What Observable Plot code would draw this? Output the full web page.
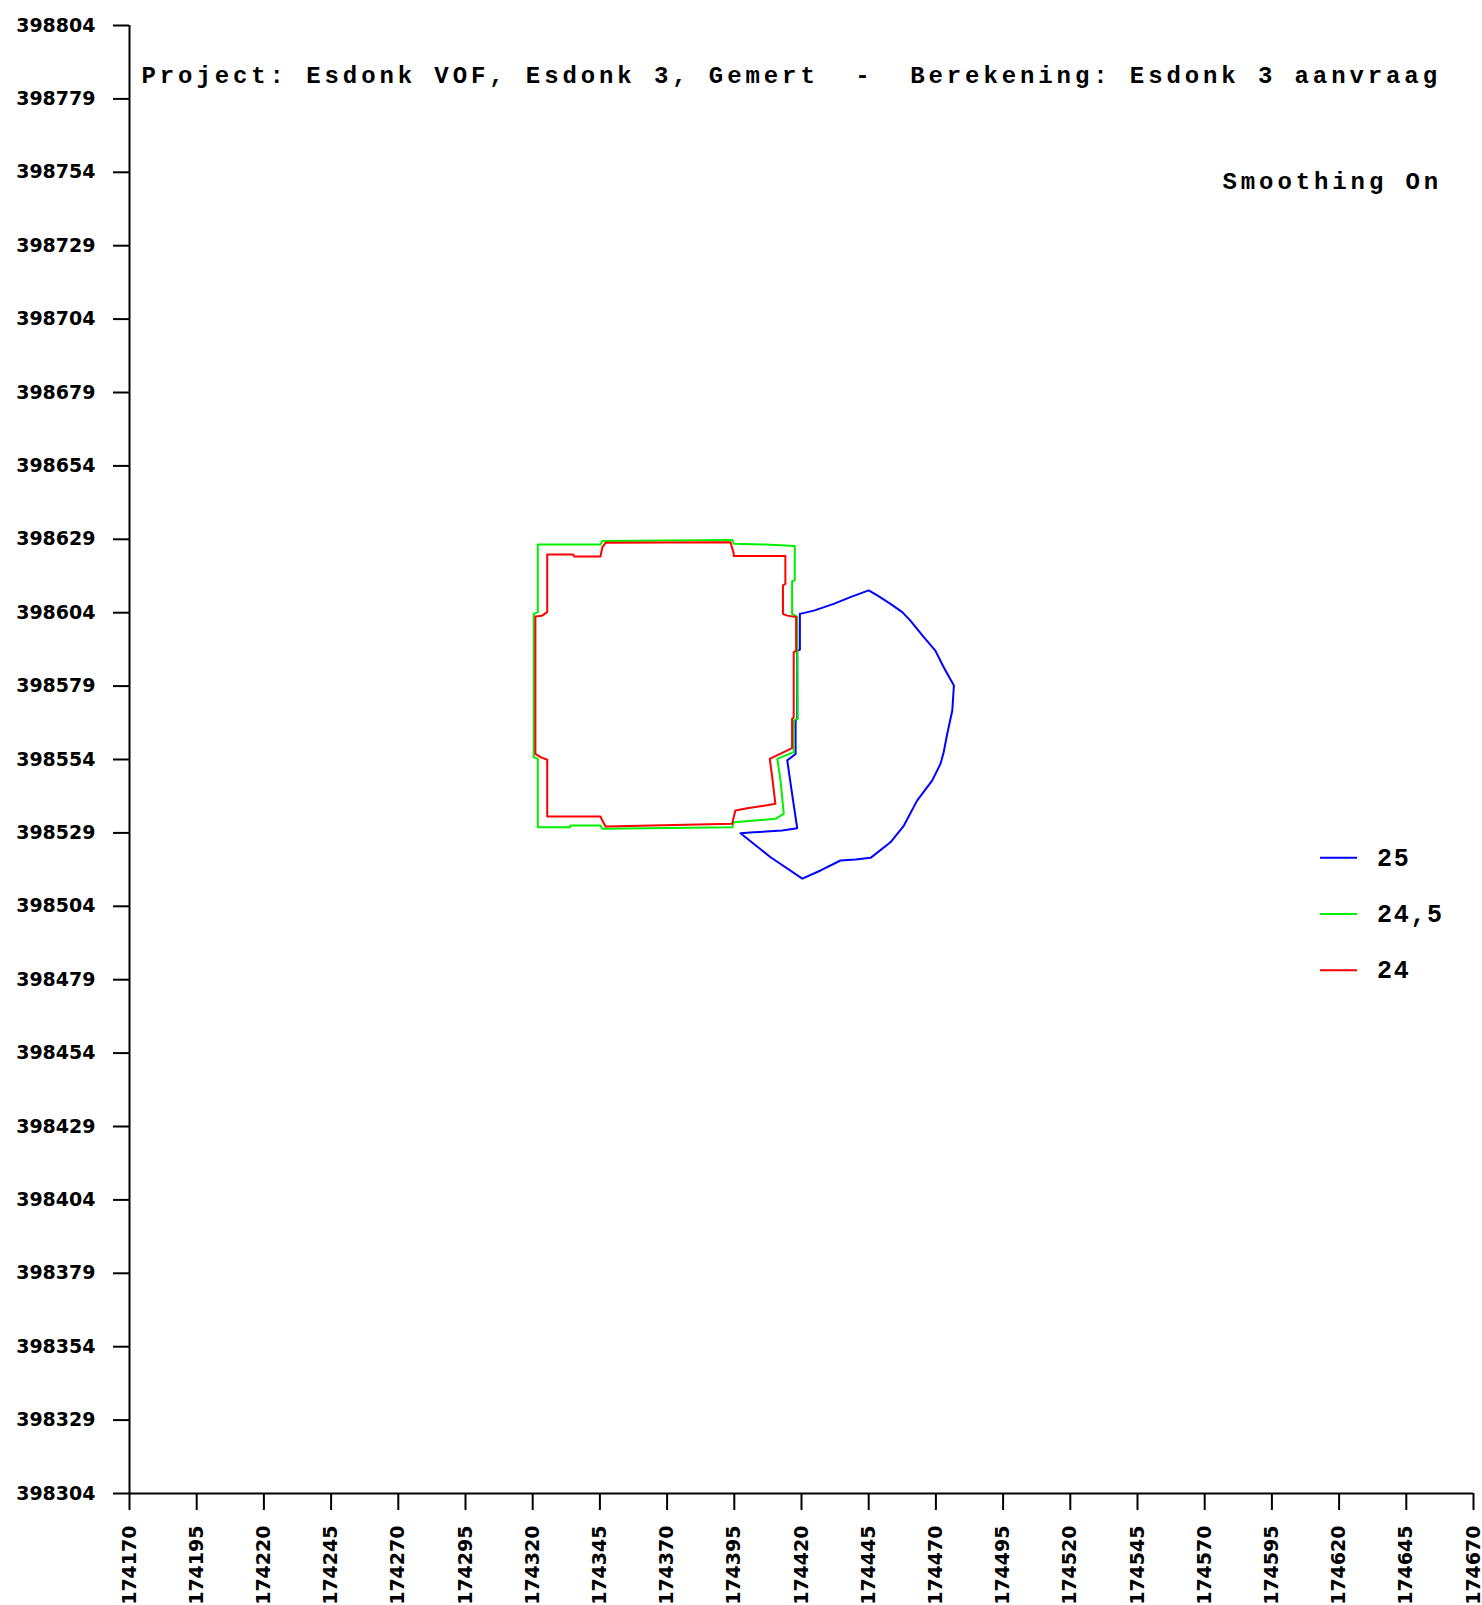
<!DOCTYPE html>
<html>
<head>
<meta charset="utf-8">
<script src="https://cdn.jsdelivr.net/npm/d3@7"></script>
<script src="https://cdn.jsdelivr.net/npm/@observablehq/plot@0.6"></script>
<style>
  body { margin: 0; background: #fff; }
  #chart { position: relative; width: 1482px; height: 1605px; }
  #chart svg { overflow: visible; }
  g[aria-label="text"] text { letter-spacing: 3.9px; }
  g[aria-label="x-axis tick"] path, g[aria-label="y-axis tick"] path { stroke-width: 2px; }
</style>
</head>
<body>
<div id="chart"></div>
<script>
// ---- Data ----
const titleText = "Project: Esdonk VOF, Esdonk 3, Gemert  -  Berekening: Esdonk 3 aanvraag";
const smoothingText = "Smoothing On";

const xTicks = [174170,174195,174220,174245,174270,174295,174320,174345,174370,174395,174420,174445,174470,174495,174520,174545,174570,174595,174620,174645,174670];
const yTicks = [398304,398329,398354,398379,398404,398429,398454,398479,398504,398529,398554,398579,398604,398629,398654,398679,398704,398729,398754,398779,398804];

const levels = ["25", "24,5", "24"];
const levelColors = ["#0000ff", "#00f000", "#ff0000"];

// contour 25 (blue)
const c25X = [174419.4,174424.6,174432.0,174438.2,174445.0,174448.2,174453.1,174457.5,174460.5,174465.5,174469.8,174472.9,174476.7,174476.1,174474.2,174472.9,174471.7,174468.6,174463.0,174458.1,174453.1,174445.7,174440.1,174434.5,174427.1,174420.3,174408.5,174397.3,174402.3,174412.8,174418.4,174416.5,174414.7,174417.8,174417.8,174418.4,174418.4,174419.4];
const c25Y = [398603.6,398604.7,398607.0,398609.3,398611.6,398609.9,398607.0,398604.2,398601.3,398595.7,398591.1,398585.4,398579.2,398570.7,398562.7,398556.5,398552.5,398546.8,398540.0,398531.5,398525.8,398520.5,398519.9,398519.6,398516.2,398513.4,398520.7,398528.9,398529.2,398529.8,398530.6,398542.3,398553.7,398555.9,398567.3,398567.9,398591.1,398591.4];

// contour 24,5 (green)
const c245X = [174321.9,174345.2,174345.9,174394.3,174394.8,174406.6,174417.5,174417.5,174416.5,174416.5,174418.4,174418.6,174417.1,174417.1,174411.0,174412.2,174413.4,174410.3,174394.8,174394.2,174345.9,174345.2,174334.0,174333.8,174321.9,174321.9,174320.4,174320.4,174321.9];
const c245Y = [398627.2,398627.2,398628.4,398628.8,398627.5,398627.2,398626.7,398615.0,398614.7,398603.6,398602.7,398567.9,398567.3,398556.5,398554.2,398546.8,398535.5,398533.8,398532.6,398530.9,398530.4,398531.5,398531.5,398530.9,398530.9,398554.2,398554.8,398603.6,398604.2];

// contour 24 (red)
const c24X = [174325.4,174335.1,174335.5,174345.2,174345.9,174347.1,174393.6,174394.8,174394.8,174414.0,174414.0,174413.1,174413.1,174414.7,174418.0,174418.0,174417.1,174417.1,174416.5,174416.5,174408.2,174409.1,174410.3,174406.6,174399.8,174395.4,174394.2,174347.1,174345.9,174345.2,174325.4,174325.4,174322.9,174321.0,174321.0,174323.5,174325.4];
const c24Y = [398623.8,398623.8,398623.1,398623.1,398626.3,398627.8,398628.0,398624.1,398623.3,398623.3,398613.8,398613.3,398603.6,398603.0,398602.5,398591.1,398590.5,398568.4,398567.9,398557.9,398554.2,398548.0,398538.9,398538.3,398537.4,398536.6,398532.1,398531.2,398533.2,398534.6,398534.6,398553.9,398554.8,398555.9,398602.7,398603.0,398604.2];

// ---- Build closed rings ----
function ring(xs, ys) {
  const pts = xs.map((x, i) => ({x, y: ys[i]}));
  pts.push(pts[0]);
  return pts;
}
const rings = [ring(c25X, c25Y), ring(c245X, c245Y), ring(c24X, c24Y)];

const chart = Plot.plot({
  width: 1482,
  height: 1605,
  marginLeft: 129,
  marginRight: 9,
  marginTop: 25,
  marginBottom: 112,
  style: {fontFamily: "DejaVu Sans", fontSize: "19px", fontWeight: "bold", color: "#000", background: "#fff"},
  x: {domain: [174170, 174670], ticks: xTicks, tickFormat: d3.format("d"), tickRotate: -90, tickSize: 17, tickPadding: 15, label: null},
  y: {domain: [398304, 398804], ticks: yTicks, tickFormat: d3.format("d"), tickSize: 16, tickPadding: 18, label: null},
  marks: [
    Plot.ruleX([174170], {stroke: "#000", strokeWidth: 2}),
    Plot.ruleY([398304], {stroke: "#000", strokeWidth: 2}),
    ...rings.map((r, i) => Plot.line(r, {x: "x", y: "y", stroke: levelColors[i], strokeWidth: 2})),
    Plot.text([titleText], {frameAnchor: "top-left", textAnchor: "start", lineAnchor: "top", dx: 12, dy: 40, fontFamily: "Liberation Mono", fontSize: 24, fontWeight: "bold", fill: "#000"}),
    Plot.text([smoothingText], {frameAnchor: "top-left", textAnchor: "start", lineAnchor: "top", dx: 1093, dy: 146, fontFamily: "Liberation Mono", fontSize: 24, fontWeight: "bold", fill: "#000"})
  ]
});
document.getElementById("chart").appendChild(chart);

// ---- Legend (overlay in the same SVG) ----
const svg = d3.select(chart);
const lg = svg.append("g").attr("class", "legend").attr("text-anchor", "start");
levels.forEach((lv, i) => {
  const yy = 857.7 + i * 56.3;
  lg.append("line").attr("x1", 1320).attr("x2", 1357).attr("y1", yy).attr("y2", yy)
    .attr("stroke", levelColors[i]).attr("stroke-width", 2);
  lg.append("text").attr("x", 1377).attr("y", yy + 8)
    .attr("text-anchor", "start")
    .attr("font-family", "Liberation Mono").attr("font-size", 25).attr("font-weight", "bold")
    .attr("letter-spacing", "1.7px").attr("fill", "#000").text(lv);
});
</script>
</body>
</html>
